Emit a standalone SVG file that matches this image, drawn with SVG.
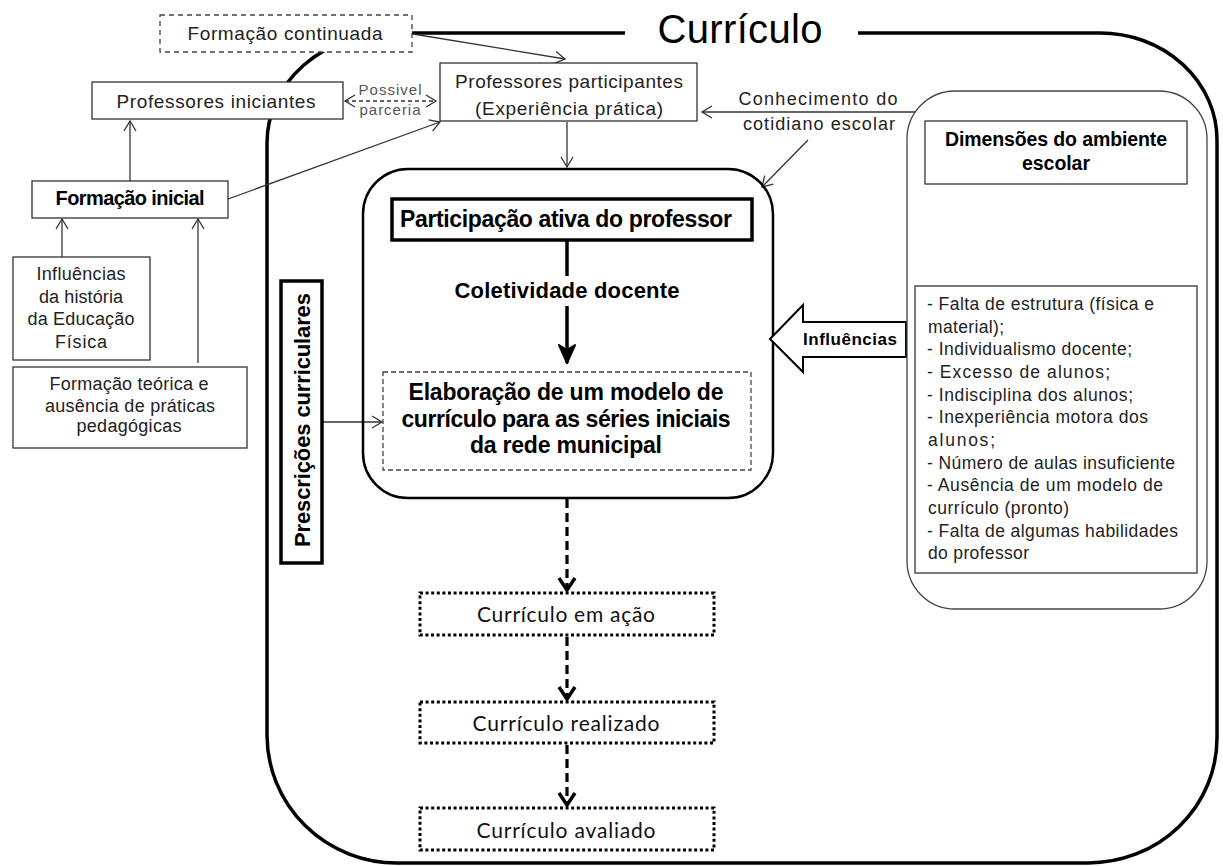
<svg xmlns="http://www.w3.org/2000/svg" width="1223" height="866" viewBox="0 0 1223 866">
<style>
.t{font-family:"Liberation Sans",Arial,sans-serif;fill:#222}
.c{text-anchor:middle}
.b{font-weight:bold;fill:#000}
.l{font-family:Lato,"Open Sans",sans-serif;fill:#111;font-size:21px;text-anchor:middle}
.g{fill:#555}
.box{fill:#fff;stroke:#333;stroke-width:1.3}
.dash{fill:#fff;stroke:#444;stroke-width:1.3;stroke-dasharray:5 4}
.thick{fill:#fff;stroke:#000;stroke-width:3.5}
.dot{fill:#fff;stroke:#000;stroke-width:3;stroke-dasharray:3 2.6}
.ln{fill:none;stroke:#333;stroke-width:1.3}
.dln{fill:none;stroke:#000;stroke-width:3.2;stroke-dasharray:9 5}
.list{font-size:17.5px}
</style>
<defs>
<marker id="ah" markerUnits="userSpaceOnUse" markerWidth="14" markerHeight="14" refX="10" refY="6" orient="auto-start-reverse" overflow="visible">
<path d="M0,0 L10,6 L0,12" fill="none" stroke="#333" stroke-width="1.3"/>
</marker>
<marker id="ahd" markerUnits="userSpaceOnUse" markerWidth="16" markerHeight="18" refX="12" refY="8" orient="auto" overflow="visible">
<path d="M0,0 L12,8 L0,16" fill="none" stroke="#000" stroke-width="3.5"/>
</marker>
<marker id="ahb" markerUnits="userSpaceOnUse" markerWidth="20" markerHeight="20" refX="18" refY="9" orient="auto" overflow="visible">
<path d="M0,1 L18,9 L0,17 L5,9 Z" fill="#000" stroke="#000" stroke-width="2" stroke-linejoin="round"/>
</marker>
</defs>
<rect width="1223" height="866" fill="#fff"/>

<g id="frame">
<path d="M625,33 H392 A125,110 0 0 0 267,143 V735 A130,128 0 0 0 397,863 H1088 A129,125 0 0 0 1217,738 V140 A117,107 0 0 0 1100,33 H858" fill="none" stroke="#000" stroke-width="3.5"/>
<text class="t c" x="740" y="43" style="font-size:40px;fill:#000" textLength="165">Currículo</text>
</g>

<g id="connectors">
<line class="ln" x1="413" y1="34" x2="565" y2="59" marker-end="url(#ah)"/>
<line class="ln" x1="345" y1="101" x2="436" y2="101" stroke-dasharray="4 3" marker-start="url(#ah)" marker-end="url(#ah)"/>
<line class="ln" x1="130" y1="181" x2="130" y2="121" marker-end="url(#ah)"/>
<line class="ln" x1="228" y1="199" x2="440" y2="122" marker-end="url(#ah)"/>
<line class="ln" x1="62" y1="257" x2="62" y2="219" marker-end="url(#ah)"/>
<line class="ln" x1="198" y1="363" x2="198" y2="219" marker-end="url(#ah)"/>
<line class="ln" x1="915" y1="112" x2="702" y2="112" marker-end="url(#ah)"/>
<line class="ln" x1="808" y1="140" x2="762" y2="187" marker-end="url(#ah)"/>
<line class="ln" x1="567" y1="122" x2="567" y2="167" marker-end="url(#ah)"/>
<line class="ln" x1="323" y1="422" x2="382" y2="422" marker-end="url(#ah)"/>
<line class="ln" x1="1061" y1="184" x2="1061" y2="215"/>
<line class="ln" x1="1061" y1="244" x2="1061" y2="275" marker-end="url(#ah)"/>
<line x1="567" y1="240" x2="567" y2="276" stroke="#000" stroke-width="3.5"/>
<line x1="567" y1="306" x2="567" y2="363" stroke="#000" stroke-width="3.5" marker-end="url(#ahb)"/>
<line class="dln" x1="567" y1="499" x2="567" y2="590" marker-end="url(#ahd)"/>
<line class="dln" x1="567" y1="637" x2="567" y2="699" marker-end="url(#ahd)"/>
<line class="dln" x1="567" y1="745" x2="567" y2="805" marker-end="url(#ahd)"/>
<text class="t c g" x="390" y="95" style="font-size:15px" textLength="63">Possivel</text>
<text class="t c g" x="390" y="115" style="font-size:15px" textLength="61">parceria</text>
<text class="t c" x="818" y="105" style="font-size:18px" textLength="159">Conhecimento do</text>
<text class="t c" x="819" y="130" style="font-size:18px" textLength="152">cotidiano escolar</text>
<text class="t c b" x="567" y="298" style="font-size:22px" textLength="225">Coletividade docente</text>
<text class="t c g" x="1065" y="233" style="font-size:15px" textLength="60">Desafios</text>
</g>

<g id="formacao-continuada">
<rect class="dash" x="160" y="15" width="252" height="37"/>
<text class="t c" x="285" y="40" style="font-size:19px" textLength="195">Formação continuada</text>
</g>

<g id="professores-iniciantes">
<rect class="box" x="92" y="82" width="251" height="37"/>
<text class="t c" x="216" y="108" style="font-size:19px" textLength="199">Professores iniciantes</text>
</g>

<g id="professores-participantes">
<rect class="box" x="440" y="63" width="257" height="58"/>
<text class="t c" x="569" y="88" style="font-size:19px" textLength="228">Professores participantes</text>
<text class="t c" x="569" y="115" style="font-size:19px" textLength="188">(Experiência prática)</text>
</g>

<g id="formacao-inicial">
<rect class="box" x="32" y="181" width="196" height="37"/>
<text class="t c b" x="130" y="205" style="font-size:20px" textLength="149">Formação inicial</text>
</g>

<g id="influencias-historia">
<rect class="box" x="13" y="257" width="137" height="103"/>
<text class="t c" x="81" y="280" style="font-size:18px" textLength="89">Influências</text>
<text class="t c" x="81" y="303" style="font-size:18px" textLength="84">da história</text>
<text class="t c" x="81" y="325" style="font-size:18px" textLength="107">da Educação</text>
<text class="t c" x="81" y="348" style="font-size:18px" textLength="52">Física</text>
</g>

<g id="formacao-teorica">
<rect class="box" x="13" y="367" width="234" height="81"/>
<text class="t c" x="129" y="390" style="font-size:18px" textLength="159">Formação teórica e</text>
<text class="t c" x="130" y="412" style="font-size:18px" textLength="170">ausência de práticas</text>
<text class="t c" x="129" y="432" style="font-size:18px" textLength="105">pedagógicas</text>
</g>

<g id="inner-box">
<rect x="363" y="169" width="410" height="329" rx="45" ry="45" fill="none" stroke="#000" stroke-width="2.5"/>
</g>

<g id="participacao">
<rect class="thick" x="392" y="199" width="360" height="41"/>
<text class="t c b" x="566" y="227" style="font-size:23px" textLength="332">Participação ativa do professor</text>
</g>

<g id="elaboracao">
<rect class="dash" x="383" y="372" width="368" height="98" style="stroke-dasharray:5 3"/>
<text class="t c b" x="566" y="400" style="font-size:23px" textLength="315">Elaboração de um modelo de</text>
<text class="t c b" x="566" y="427" style="font-size:23px" textLength="329">currículo para as séries iniciais</text>
<text class="t c b" x="566" y="453" style="font-size:23px" textLength="192">da rede municipal</text>
</g>

<g id="prescricoes">
<rect class="thick" x="281" y="281" width="41" height="282"/>
<text class="t c b" transform="translate(310,420) rotate(-90)" style="font-size:22px" textLength="254">Prescrições curriculares</text>
</g>

<g id="curriculo-acao">
<rect class="dot" x="420" y="593" width="294" height="42"/>
<text class="l" x="566" y="622" textLength="178">Currículo em ação</text>
</g>

<g id="curriculo-realizado">
<rect class="dot" x="420" y="702" width="294" height="41"/>
<text class="l" x="566" y="731" textLength="187">Currículo realizado</text>
</g>

<g id="curriculo-avaliado">
<rect class="dot" x="420" y="808" width="294" height="42"/>
<text class="l" x="566" y="838" textLength="179">Currículo avaliado</text>
</g>

<g id="influencias-arrow">
<polygon points="770,339 803,305 803,322 906,322 906,357 803,357 803,372" fill="#fff" stroke="#000" stroke-width="2"/>
<text class="t c b" x="850" y="345" style="font-size:17px" textLength="94">Influências</text>
</g>

<g id="ambiente-escolar">
<rect x="907" y="91" width="300" height="518" rx="48" ry="48" fill="#fff" stroke="#444" stroke-width="1.3"/>
</g>

<g id="dimensoes">
<rect class="box" x="925" y="121" width="262" height="63"/>
<text class="t c b" x="1056" y="146" style="font-size:19.5px" textLength="222">Dimensões do ambiente</text>
<text class="t c b" x="1056" y="170" style="font-size:19.5px" textLength="68">escolar</text>
</g>

<g id="desafios-lista">
<rect class="box" x="915" y="286" width="282" height="287"/>
<text class="t list" x="927" y="310" textLength="227">- Falta de estrutura (física e</text>
<text class="t list" x="928" y="333" textLength="76">material);</text>
<text class="t list" x="927" y="355" textLength="205">- Individualismo docente;</text>
<text class="t list" x="927" y="378" textLength="183">- Excesso de alunos;</text>
<text class="t list" x="927" y="401" textLength="206">- Indisciplina dos alunos;</text>
<text class="t list" x="927" y="423" textLength="221">- Inexperiência motora dos</text>
<text class="t list" x="928" y="446" textLength="67">alunos;</text>
<text class="t list" x="927" y="469" textLength="248">- Número de aulas insuficiente</text>
<text class="t list" x="927" y="491" textLength="236">- Ausência de um modelo de</text>
<text class="t list" x="928" y="514" textLength="141">currículo (pronto)</text>
<text class="t list" x="927" y="537" textLength="251">- Falta de algumas habilidades</text>
<text class="t list" x="928" y="559" textLength="101">do professor</text>
</g>
</svg>
